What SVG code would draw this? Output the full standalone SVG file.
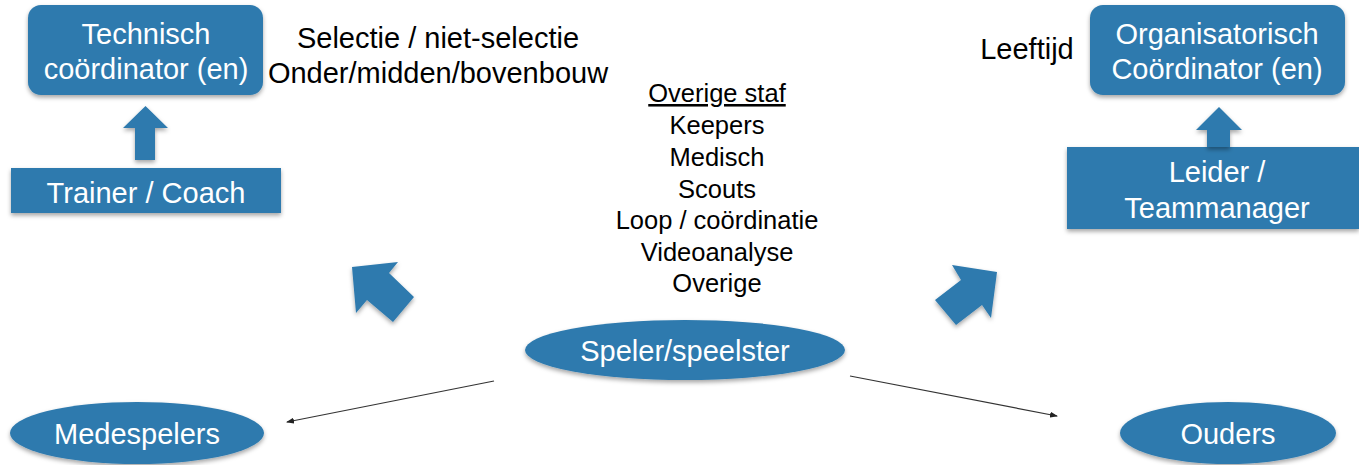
<svg xmlns="http://www.w3.org/2000/svg" width="1359" height="465" viewBox="0 0 1359 465">
<style>
.shape{fill:#2E7AAE}
.wt{fill:#ffffff;font-family:"Liberation Sans",Arial,sans-serif;font-size:29px;text-anchor:middle}
.bt{fill:#000000;font-family:"Liberation Sans",Arial,sans-serif;font-size:29px;text-anchor:middle}
.lt{fill:#000000;font-family:"Liberation Sans",Arial,sans-serif;font-size:25.5px;text-anchor:middle}
.conn{stroke:#333333;stroke-width:1.2;fill:none;marker-end:url(#ah)}
</style>
<defs>
<filter id="sh" x="-10%" y="-10%" width="120%" height="130%">
<feDropShadow dx="0" dy="2.5" stdDeviation="2" flood-color="#000000" flood-opacity="0.35"/>
</filter>
<marker id="ah" markerWidth="8" markerHeight="6" refX="7" refY="3" orient="auto" markerUnits="userSpaceOnUse">
<path d="M0,0 L8,3 L0,6 Z" fill="#222222"/>
</marker>
</defs>
<rect width="1359" height="465" fill="#ffffff"/>

<g id="technisch">
<rect class="shape" x="28" y="5" width="235" height="90" rx="13" filter="url(#sh)"/>
<text class="wt" x="146" y="44">Technisch</text>
<text class="wt" x="146" y="79">coördinator (en)</text>
</g>

<g id="trainer">
<rect class="shape" x="11" y="168" width="270" height="45" filter="url(#sh)"/>
<text class="wt" x="146" y="203">Trainer / Coach</text>
</g>

<g id="organisatorisch">
<rect class="shape" x="1090" y="5" width="255" height="90" rx="13" filter="url(#sh)"/>
<text class="wt" x="1217" y="44">Organisatorisch</text>
<text class="wt" x="1217" y="79">Coördinator (en)</text>
</g>

<g id="leider">
<rect class="shape" x="1067" y="147" width="292" height="82" filter="url(#sh)"/>
<text class="wt" x="1217" y="182">Leider /</text>
<text class="wt" x="1217" y="218">Teammanager</text>
</g>

<g id="speler">
<ellipse class="shape" cx="685" cy="350" rx="160" ry="30" filter="url(#sh)"/>
<text class="wt" x="685" y="361">Speler/speelster</text>
</g>

<g id="medespelers">
<ellipse class="shape" cx="137" cy="433" rx="127" ry="31" filter="url(#sh)"/>
<text class="wt" x="137" y="444">Medespelers</text>
</g>

<g id="ouders">
<ellipse class="shape" cx="1228" cy="433" rx="108" ry="31" filter="url(#sh)"/>
<text class="wt" x="1228" y="444">Ouders</text>
</g>

<g id="selectie">
<text class="bt" x="438" y="48">Selectie / niet-selectie</text>
<text class="bt" x="438" y="83">Onder/midden/bovenbouw</text>
</g>

<g id="leeftijd">
<text class="bt" x="1027" y="59">Leeftijd</text>
</g>

<g id="staf">
<text class="lt" x="717" y="102" text-decoration="underline">Overige staf</text>
<text class="lt" x="717" y="134">Keepers</text>
<text class="lt" x="717" y="166">Medisch</text>
<text class="lt" x="717" y="198">Scouts</text>
<text class="lt" x="717" y="229">Loop / coördinatie</text>
<text class="lt" x="717" y="261">Videoanalyse</text>
<text class="lt" x="717" y="292">Overige</text>
</g>

<g id="connectors">
<polygon class="shape" points="135,160 155,160 155,128 168,128 145.5,106 123,128 135,128" filter="url(#sh)"/>
<polygon class="shape" points="1207,147 1230,147 1230,130 1242,130 1219,107 1196,130 1207,130" filter="url(#sh)"/>
<polygon class="shape" points="352,267 398,262 389,273 414,297 393,322 367,300 356,313" filter="url(#sh)"/>
<polygon class="shape" points="997,272 991,318 982,305 956,325 935,300 961,280 952,265" filter="url(#sh)"/>
<line class="conn" x1="494" y1="381" x2="287" y2="422"/>
<line class="conn" x1="850" y1="376" x2="1057" y2="416"/>
</g>
</svg>
